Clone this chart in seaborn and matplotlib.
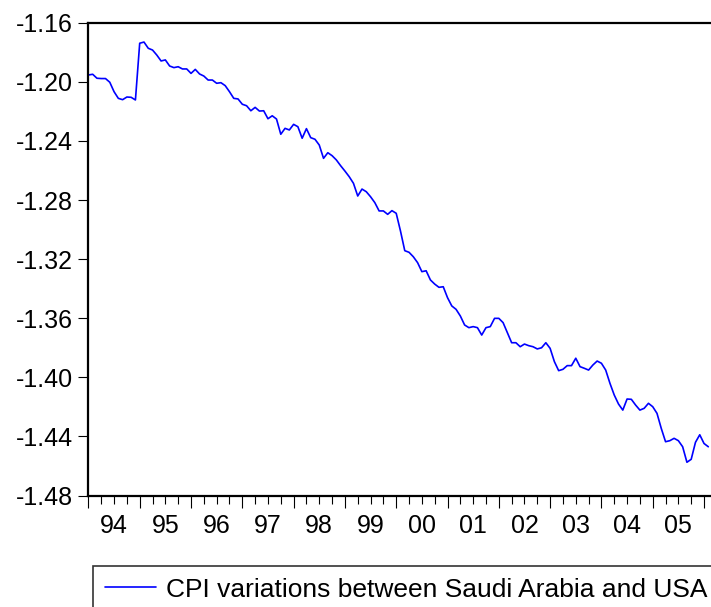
import numpy as np
import pandas as pd
import matplotlib
matplotlib.use("Agg")
import matplotlib.pyplot as plt
import seaborn as sns

# monthly observations, 1994M01 .. 2006M02
start_year = 1994
cpi_diff = [
    -1.1954, -1.1949, -1.1976, -1.1978, -1.1978, -1.2003, -1.2067, -1.2112, -1.2121, -1.2103, -1.2105, -1.2123,  # 1994
    -1.1739, -1.1731, -1.1773, -1.1785, -1.1819, -1.1859, -1.1852, -1.1893, -1.1904, -1.1898, -1.1913, -1.1913,  # 1995
    -1.1943, -1.1916, -1.1947, -1.1961, -1.1988, -1.1988, -1.2010, -1.2006, -1.2026, -1.2067, -1.2112, -1.2116,  # 1996
    -1.2152, -1.2162, -1.2196, -1.2173, -1.2198, -1.2196, -1.2250, -1.2230, -1.2252, -1.2355, -1.2315, -1.2326,  # 1997
    -1.2288, -1.2304, -1.2382, -1.2317, -1.2378, -1.2389, -1.2428, -1.2518, -1.2480, -1.2500, -1.2529, -1.2568,  # 1998
    -1.2604, -1.2642, -1.2687, -1.2773, -1.2726, -1.2744, -1.2778, -1.2818, -1.2874, -1.2874, -1.2897, -1.2872,  # 1999
    -1.2890, -1.3010, -1.3143, -1.3154, -1.3184, -1.3224, -1.3285, -1.3279, -1.3341, -1.3369, -1.3391, -1.3387,  # 2000
    -1.3461, -1.3517, -1.3540, -1.3585, -1.3646, -1.3664, -1.3657, -1.3664, -1.3714, -1.3664, -1.3657, -1.3601,  # 2001
    -1.3601, -1.3630, -1.3698, -1.3766, -1.3766, -1.3793, -1.3775, -1.3786, -1.3793, -1.3808, -1.3800, -1.3766,  # 2002
    -1.3804, -1.3894, -1.3955, -1.3946, -1.3921, -1.3921, -1.3871, -1.3928, -1.3939, -1.3951, -1.3917, -1.3890,  # 2003
    -1.3905, -1.3951, -1.4041, -1.4120, -1.4181, -1.4222, -1.4147, -1.4149, -1.4188, -1.4222, -1.4210, -1.4176,  # 2004
    -1.4199, -1.4244, -1.4346, -1.4436, -1.4429, -1.4413, -1.4429, -1.4470, -1.4575, -1.4555, -1.4440, -1.4389,  # 2005
    -1.4448, -1.4470,  # 2006
]
year_labels = ["94", "95", "96", "97", "98", "99", "00", "01", "02", "03", "04", "05"]
y_ticks = [-1.48, -1.44, -1.40, -1.36, -1.32, -1.28, -1.24, -1.20, -1.16]
series_name = "CPI variations between Saudi Arabia and USA"

df = pd.DataFrame({"t": start_year + np.arange(len(cpi_diff)) / 12.0, "value": cpi_diff})

sns.set_style("white")
plt.rcParams["font.family"] = ["Liberation Sans", "DejaVu Sans"]
plt.rcParams["text.color"] = "black"
plt.rcParams["xtick.color"] = "black"
plt.rcParams["ytick.color"] = "black"

fig = plt.figure(figsize=(7.11, 6.07), dpi=100)
ax = fig.add_axes([88.4 / 711, 1 - 495.5 / 607, 1 - 88.4 / 711, (495.5 - 22.7) / 607])

sns.lineplot(data=df, x="t", y="value", color="#0000ff", linewidth=1.2, ax=ax, label=series_name, legend=False)

ax.set_yticks(y_ticks)
ax.set_yticklabels([f"{v:.2f}" for v in y_ticks])

# year boundaries as long ticks, quarters as short ticks, year label at mid-year
n_years = len(year_labels)
ax.set_xticks(np.arange(start_year, start_year + n_years + 1))
ax.set_xticklabels([""] * (n_years + 1))
quarters = [start_year + y + q for y in range(n_years + 1) for q in (0.25, 0.5, 0.75)]
qlabels = []
for y in range(n_years + 1):
    lab = year_labels[y] if y < n_years else ""
    qlabels += ["", lab, ""]
ax.set_xticks(quarters, minor=True)
ax.set_xticklabels(qlabels, minor=True)

# limits after the ticks, so set_xticks does not widen them
ax.set_xlim(1994.0, 2006.136)
ax.set_ylim(-1.48, -1.16)

ax.set_xlabel("")
ax.set_ylabel("")

for side in ["left", "top", "bottom"]:
    ax.spines[side].set_visible(True)
    ax.spines[side].set_color("black")
    ax.spines[side].set_linewidth(1.6)
ax.spines["right"].set_visible(False)

ax.tick_params(axis="y", which="major", direction="out", length=7.5, width=0.8,
               color="black", labelcolor="black", labelsize=18, pad=3.5, left=True)
ax.tick_params(axis="x", which="major", direction="out", length=8.5, width=0.8,
               color="black", bottom=True)
ax.tick_params(axis="x", which="minor", direction="out", length=5.5, width=0.8,
               color="black", labelcolor="black", labelsize=18, pad=7.5, bottom=True)

handles, labels = ax.get_legend_handles_labels()
leg = fig.legend(handles, labels, loc="upper left",
                 bbox_to_anchor=(93.3 / 711, 1 - 566 / 607), bbox_transform=fig.transFigure,
                 frameon=True, fancybox=False, fontsize=19, handlelength=1.93,
                 handletextpad=0.38, borderpad=0.44, borderaxespad=0, labelcolor="black")
leg.get_frame().set_edgecolor("black")
leg.get_frame().set_linewidth(1.2)
leg.get_lines()[0].set_linewidth(1.2)

fig.savefig("out.png", dpi=100)
